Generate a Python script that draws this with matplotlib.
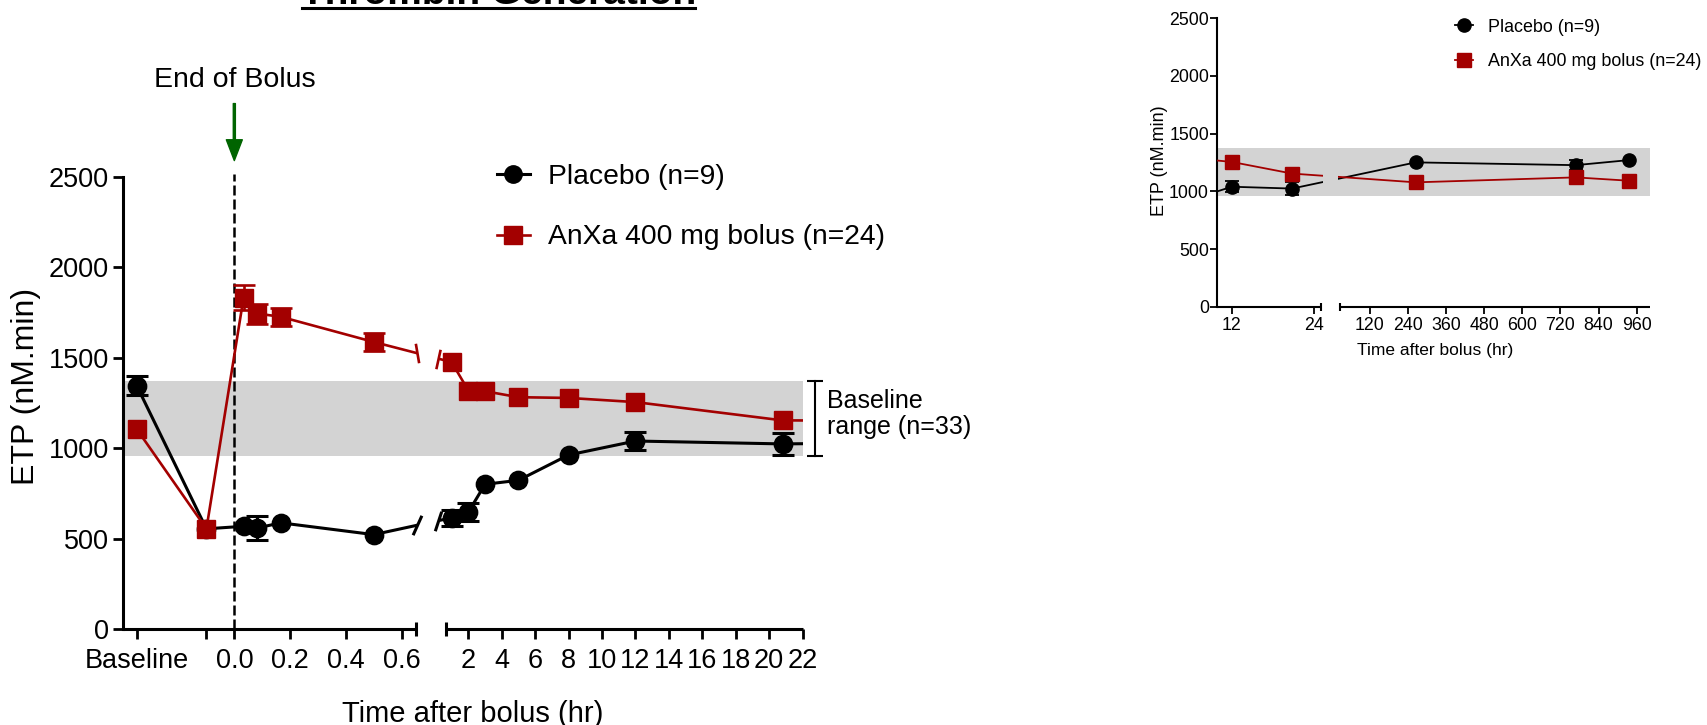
import numpy as np
import matplotlib
matplotlib.use('Agg')
import matplotlib.pyplot as plt
from matplotlib.patches import Rectangle
from matplotlib.lines import Line2D
from matplotlib.path import Path
from matplotlib.ticker import NullLocator
from matplotlib.transforms import blended_transform_factory

plt.rcParams['font.family'] = ['Liberation Sans', 'DejaVu Sans']

nan = np.nan

# ---- data (ETP, nM.min; mean and SEM) ----
hours = [-0.35, -0.1, 0.033, 0.083, 0.167, 0.5, 1, 2, 3, 5, 8, 12, 20.8, 264, 768, 936]
placebo_mean = [1346, 555, 569, 560, 588, 523, 616, 647, 801, 823, 963, 1040, 1024, 1251, 1227, 1271]
placebo_sem = [53, nan, nan, 65, nan, nan, 45, 50, nan, nan, nan, 50, 60, nan, 45, nan]
anxa_mean = [1106, 555, 1831, 1744, 1726, 1587, 1476, 1319, 1315, 1282, 1278, 1255, 1154, 1078, 1121, 1092]
anxa_sem = [nan, nan, 70, 55, 50, 50, nan, nan, nan, nan, nan, nan, nan, nan, 25, nan]
baseline_range = (960, 1374)

labels = ['Placebo (n=9)', 'AnXa 400 mg bolus (n=24)']
left_ticks = [-0.35, -0.1, 0, 0.2, 0.4, 0.6] + list(range(2, 23, 2))
left_ticklabels = ['Baseline', '', '0.0', '0.2', '0.4', '0.6'] + [str(t) for t in range(2, 23, 2)]
right_ticks = [12, 24, 120, 240, 360, 480, 600, 720, 840, 960]
right_ticklabels = [str(t) for t in right_ticks]
y_ticks = [0, 500, 1000, 1500, 2000, 2500]

BLACK = '#000000'
RED = '#a30000'
BAND = '#d3d3d3'
GREEN = '#006400'

W, H = 1708, 725
fig = plt.figure(figsize=(W / 100, H / 100), dpi=100)


def fx(x):
    return x / W


def fy(y):
    return 1 - y / H


def piecewise(xk, uk):
    xk = np.asarray(xk, float)
    uk = np.asarray(uk, float)

    def make(a, b):
        s0 = (b[1] - b[0]) / (a[1] - a[0])
        s1 = (b[-1] - b[-2]) / (a[-1] - a[-2])

        def f(v):
            v = np.asarray(v, float)
            out = np.interp(v, a, b)
            out = np.where(v < a[0], b[0] + (v - a[0]) * s0, out)
            out = np.where(v > a[-1], b[-1] + (v - a[-1]) * s1, out)
            return out
        return f
    return make(xk, uk), make(uk, xk)


def panel(c):
    x0, top, x1, bottom = c['box']
    ax = fig.add_axes([fx(x0), fy(bottom), (x1 - x0) / W, (bottom - top) / H])
    kp = c['knots_px']
    fwd, inv = piecewise(c['knots_hr'], kp)
    ax.set_xscale('function', functions=(fwd, inv))
    ax.axhspan(*baseline_range, color=BAND, lw=0, zorder=0)

    f1 = (kp[1] + c['cut'][0] - kp[0]) / (kp[-1] - kp[0])
    f2 = (kp[2] - c['cut'][1] - kp[0]) / (kp[-1] - kp[0])
    u_pts = fwd(hours)

    series = [(placebo_mean, placebo_sem, BLACK, 'o', c['lw_black'], 2, c.get('black_marks')),
              (anxa_mean, anxa_sem, RED, 's', c['lw_red'], 3, c.get('red_marks'))]
    for mean, sem, color, marker, lw, z, marks in series:
        for a, b in [(0, f1), (f2, 1)]:
            ln, = ax.plot(hours, mean, color=color, lw=lw, zorder=z)
            ln.set_clip_path(Rectangle((a, 0), b - a, 1, transform=ax.transAxes))
        ax.errorbar(hours, mean, yerr=sem, fmt='none', ecolor=color, elinewidth=lw,
                    capsize=c['capsize'], capthick=lw, zorder=z + 0.1)
        ax.plot(hours, mean, ls='none', marker=marker, ms=c['ms'], color=color,
                mec=color, zorder=z + 0.2)
        if marks:
            for ub, path in zip([kp[1] + c['cut'][0], kp[2] - c['cut'][1]], marks):
                yb = np.interp(ub, u_pts, mean)
                ax.plot(inv([ub]), [yb], ls='none', marker=path, ms=c['slash_ms'],
                        mfc='none', mec=color, mew=lw, zorder=z, clip_on=False)

    # broken x axis drawn by hand
    hk = c['knots_hr']
    for a, b in [(hk[0], hk[1]), (hk[2], hk[3])]:
        ax.plot([a, b], [0, 0], color='k', lw=c['spine_lw'], solid_capstyle='butt',
                clip_on=False, zorder=5)
    ax.plot([hk[1], hk[2]], [0, 0], ls='none', marker='|', ms=c['cap_ms'],
            mew=c['spine_lw'], color='k', clip_on=False, zorder=5)

    for s in ['top', 'right', 'bottom']:
        ax.spines[s].set_visible(False)
    ax.spines['left'].set_linewidth(c['spine_lw'])
    ax.spines['left'].set_bounds(0, 2500)

    ax.set_xticks(c['ticks'])
    ax.set_xticklabels(c['ticklabels'])
    ax.xaxis.set_minor_locator(NullLocator())
    ax.set_yticks(y_ticks)
    ax.tick_params(axis='both', length=c['tick_len'], width=c['tick_w'],
                   labelsize=c['labelsize'], direction='out')
    ax.tick_params(axis='x', pad=c['xpad'])
    ax.tick_params(axis='y', pad=c['ypad'])
    ax.set_xlim(hk[0], hk[-1])
    ax.set_ylim(0, 2500)
    ax.patch.set_visible(False)

    handles = [Line2D([], [], color=BLACK, lw=c['lw_black'], marker='o', ms=c['leg_ms']),
               Line2D([], [], color=RED, lw=c['lw_red'], marker='s', ms=c['leg_ms'])]
    lx, ly = c['legend_at']
    ax.legend(handles, labels, loc='upper left', bbox_to_anchor=(fx(lx), fy(ly)),
              bbox_transform=fig.transFigure, frameon=False, fontsize=c['leg_fs'],
              handlelength=c['handlelength'], handletextpad=c['handletextpad'],
              labelspacing=c['labelspacing'], borderpad=0, borderaxespad=0)
    return ax


left = panel(dict(
    box=(123.3, 176.7, 802.6, 629.3),
    knots_hr=[-0.398, 0.65, 0.67, 22], knots_px=[123.3, 415.65, 446.1, 802.6],
    cut=(1.0, 8.0), ticks=left_ticks, ticklabels=left_ticklabels,
    lw_black=2.2, lw_red=1.9, ms=13.2, capsize=8, spine_lw=2.2, cap_ms=10,
    tick_len=7.2, tick_w=2, labelsize=19.5, xpad=6, ypad=3,
    slash_ms=14,
    black_marks=[Path([(-0.45, -1), (0.45, 1)]), Path([(-0.33, -1), (0.33, 1)])],
    red_marks=[Path([(-0.17, 1), (0.17, -1)]), Path([(-0.22, -1), (0.22, 1)])],
    leg_ms=12.5, legend_at=(496.7, 163.5), leg_fs=20.3, handlelength=1.18,
    handletextpad=0.65, labelspacing=1.24))

right = panel(dict(
    box=(1217.3, 18.3, 1650, 306.7),
    knots_hr=[9.9, 25, 26, 1002], knots_px=[1217.3, 1320.9, 1340.1, 1650],
    cut=(2.4, 2.0), ticks=right_ticks, ticklabels=right_ticklabels,
    lw_black=1.3, lw_red=1.3, ms=9.5, capsize=4.8, spine_lw=1.5, cap_ms=6,
    tick_len=5, tick_w=1.3, labelsize=12.8, xpad=2.4, ypad=1,
    leg_ms=9.5, legend_at=(1455, 18.5), leg_fs=12.9, handlelength=1.02,
    handletextpad=0.8, labelspacing=0.99))

# end of bolus marker
bolus_end = 0.0
left.plot([bolus_end, bolus_end], [0, 2515], color='k', lw=1.8, dashes=(4, 1.6),
          clip_on=False, zorder=1)
left.annotate('', xy=(bolus_end, 2589), xytext=(bolus_end, 2904),
              arrowprops=dict(color=GREEN, width=1.5, headwidth=11.5, headlength=15, shrink=0),
              annotation_clip=False)
fig.text(fx(235), fy(87.3), 'End of Bolus', ha='center', va='baseline', fontsize=20.5)

# baseline range bracket
blend = blended_transform_factory(left.transAxes, left.transData)
left.plot([1.0183, 1.0183], list(baseline_range), color='k', lw=1.5, marker='_',
          ms=11, mew=1.5, transform=blend, clip_on=False)
fig.text(fx(826.7), fy(414), 'Baseline\nrange (n=33)', ha='left', va='center',
         fontsize=18, linespacing=1.15)

# axis titles
fig.text(fx(26), fy(386.5), 'ETP (nM.min)', rotation=90, ha='center', va='center', fontsize=23)
fig.text(fx(473), fy(722), 'Time after bolus (hr)', ha='center', va='baseline', fontsize=21)
fig.text(fx(1160), fy(161), 'ETP (nM.min)', rotation=90, ha='center', va='center', fontsize=13)
fig.text(fx(1435), fy(355), 'Time after bolus (hr)', ha='center', va='baseline', fontsize=12.5)

# title, cut at the top edge as in the source
fig.text(fx(498.5), fy(3.5), 'Thrombin Generation', ha='center', va='baseline',
         fontsize=28, fontweight='bold')
fig.add_artist(Line2D([fx(302), fx(695)], [fy(8.3), fy(8.3)], color='k', lw=2.2))

fig.savefig('out.png', dpi=100)
